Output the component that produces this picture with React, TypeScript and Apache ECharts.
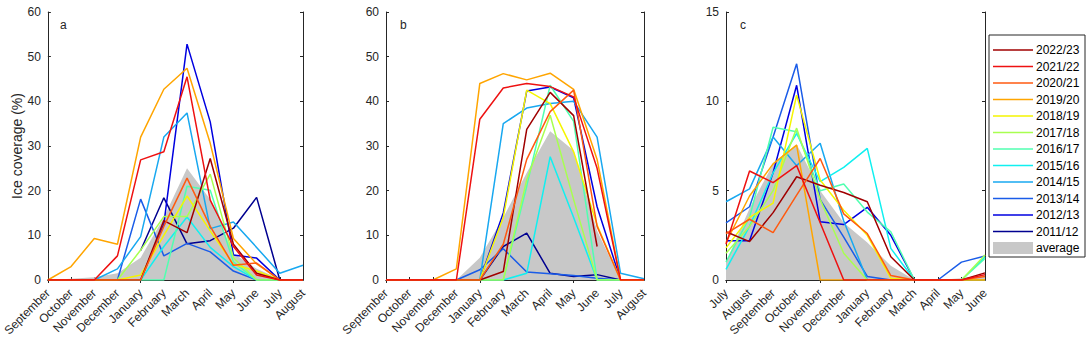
import React, { useEffect, useRef } from "react";
import * as echarts from "echarts";

const monthsAB = ["September","October","November","December","January","February","March","April","May","June","July","August"];
const monthsC = ["July","August","September","October","November","December","January","February","March","April","May","June"];
const seasons = ["2022/23","2021/22","2020/21","2019/20","2018/19","2017/18","2016/17","2015/16","2014/15","2013/14","2012/13","2011/12"];
const seasonColors = ["#a00000","#ee1111","#ff5a10","#ffa500","#f5f500","#a8ff50","#50ffb0","#10f0f0","#18a8f0","#1a5ce8","#0000e0","#000090"];
const averageName = "average";

const panelA: (number | null)[][] = [
  [0,0,0,0,0,13.3,10.6,27.2,8,1.5,0,0],
  [0,0,0,5.4,26.9,28.7,45.5,17.9,7.5,1.1,0,0],
  [0,0,0,0,0,12,22.8,12,3.3,3.8,0,0],
  [0,3,9.3,8,32,42.7,47.4,30.6,9.3,3.6,0,0],
  [0,0,0,0,1.1,10,18.8,11,3.5,2,0,0],
  [0,0,0,0,6.7,14.2,14.2,23.7,5,0,0,0],
  [0,0,0,0,0,0,21,20.1,4,0,0,0],
  [0,0,0,0,0,7.5,14.1,7.3,3,0,0,0],
  [0,0,0,2.5,9.7,32,37.4,11.5,13,7.3,1.5,3.3],
  [0,0,0,0,18.1,5.4,8.2,6.3,2,0,0,0],
  [0,0,0,0,0,12.5,52.8,35.4,5.6,4.9,0,0],
  [null,null,null,null,6.6,18.4,8.1,8.8,11.6,18.5,0,0],
];
const avgA = [0,0.3,0.6,1.5,5,14,25,18,6,2.5,0.2,0.2];

const panelB: (number | null)[][] = [
  [0,0,0,0,0,1.9,33.7,42,36.8,7.5,null,null],
  [0,0,0,0,36,43,44,43.3,41,25,0,0],
  [0,0,0,0,0,8,27,37.7,42.5,12,0,0],
  [0,0,0,2.5,44,46.2,44.8,46.3,42.7,27,0,0],
  [0,0,0,0,0,14,42.5,39.5,28.7,12.3,0,0],
  [0,0,0,0,0,0,22.4,36.9,18,0,0,0],
  [0,0,0,0,0,0,21,43.6,35.5,0,0,0],
  [0,0,0,0,0,0,1.5,27.6,14,0,0,0],
  [0,0,0,0,0,35,38.5,39.5,40,32,1.5,0.3],
  [0,0,0,0,2.3,7,1.8,1.4,1,0.4,0,0],
  [0,0,0,0,0,15,42.3,43.2,40.8,16.4,0,0],
  [0,0,0,0,0,7.5,10.5,1.5,0.8,1.2,0,0],
];
const avgB = [0,0,0,0,5,14,24,33.3,29,11,0,0];

const panelC: (number | null)[][] = [
  [2.7,2.15,3.77,5.78,5.3,4.9,4.38,1.3,0,0,0,0.4],
  [2.0,6.1,5.45,6.4,3.2,0,0,0,0,0,0,0.3],
  [2.6,3.4,2.65,4.75,6.8,3.7,2.6,0.25,0,0,0,0.2],
  [2.1,4.7,6.5,7.55,0,0,0,0,0,0,0,0],
  [1.8,3.5,4.3,10.35,5.6,3.9,2.5,0.1,0,0,0,0],
  [1.5,3,5,8.5,4.5,1.5,0,0,0,0,0,1.4],
  [1.0,3.5,8.55,8.3,5,5.37,3.8,2.7,0,0,0,1.2],
  [0.6,3,6,8.2,5.5,6.3,7.37,1.77,0,0,0,1.3],
  [4.38,5.1,8.0,6.4,7.65,3.3,0,0,0,0,0,0],
  [3.2,4.1,8.0,12.1,4.5,2.4,0.2,0,0,0,1.0,1.34],
  [2.2,2.2,6,10.9,3.26,3.1,4.07,2.5,0,0,0,0],
  [null,null,null,null,null,null,null,null,null,null,null,null],
];
const avgC = [1,4,6.5,7.6,5,3.2,2.1,0.8,0,0,0.1,0.3];

const panelLetters = ["a","b","c"];
const yMax = [60, 60, 15];
const yInterval = [10, 10, 5];

const FONT = "'Liberation Sans', Arial, sans-serif";
const AX = "#262626";

export default function App() {
  const ref = useRef<HTMLDivElement>(null);
  useEffect(() => {
    if (!ref.current) return;
    const chart = echarts.init(ref.current, null, { renderer: "svg" });
    const grids = [
      { left: 46, top: 12, width: 257, height: 268 },
      { left: 386, top: 12, width: 258, height: 268 },
      { left: 726, top: 12, width: 259, height: 268 },
    ];
    const panels = [panelA, panelB, panelC];
    const avgs = [avgA, avgB, avgC];
    const cats = [monthsAB, monthsAB, monthsC];
    const xAxis: any[] = [];
    const yAxis: any[] = [];
    const series: any[] = [];
    grids.forEach((g, i) => {
      xAxis.push({
        type: "category", gridIndex: i, data: cats[i], boundaryGap: false,
        axisLine: { lineStyle: { color: AX, width: 1 } },
        axisTick: { inside: true, length: 3, lineStyle: { color: AX } },
        axisLabel: { rotate: 45, fontSize: 12, fontFamily: FONT, color: AX, margin: 11, interval: 0 },
        splitLine: { show: false },
      });
      xAxis.push({
        type: "category", gridIndex: i, data: cats[i], boundaryGap: false, position: "top",
        axisLine: { lineStyle: { color: AX, width: 1 } },
        axisTick: { inside: true, length: 3, lineStyle: { color: AX } },
        axisLabel: { show: false }, splitLine: { show: false },
      });
      yAxis.push({
        type: "value", gridIndex: i, min: 0, max: yMax[i], interval: yInterval[i],
        name: i === 0 ? "Ice coverage (%)" : "", nameLocation: "middle", nameGap: 24,
        nameTextStyle: { fontSize: 14, fontFamily: FONT, color: AX },
        axisLine: { show: true, lineStyle: { color: AX, width: 1 } },
        axisTick: { show: true, inside: true, length: 3, lineStyle: { color: AX } },
        axisLabel: { fontSize: 12, fontFamily: FONT, color: AX, margin: 7 },
        splitLine: { show: false },
      });
      yAxis.push({
        type: "value", gridIndex: i, min: 0, max: yMax[i], interval: yInterval[i], position: "right",
        axisLine: { show: true, lineStyle: { color: AX, width: 1 } },
        axisTick: { show: true, inside: true, length: 3, lineStyle: { color: AX } },
        axisLabel: { show: false }, splitLine: { show: false },
      });
      series.push({
        type: "line", name: averageName, xAxisIndex: i * 2, yAxisIndex: i * 2,
        data: avgs[i], showSymbol: false, symbol: "none",
        lineStyle: { width: 0, color: "#c8c8c8" },
        areaStyle: { color: "#c8c8c8", opacity: 1 }, z: 1,
      });
      const order = [11,10,9,8,7,6,5,4,3,0,2,1];
      order.forEach((s) => {
        series.push({
          type: "line", name: seasons[s], xAxisIndex: i * 2, yAxisIndex: i * 2,
          data: panels[i][s], showSymbol: false, symbol: "none",
          lineStyle: { width: 1.5, color: seasonColors[s] }, z: 2,
        });
      });
    });

    const graphic: any[] = [];
    panelLetters.forEach((l, i) => {
      graphic.push({
        type: "text", left: grids[i].left + 14, top: 19,
        style: { text: l, fontSize: 12, fontFamily: FONT, fill: AX },
      });
    });
    const lx = 989, ly = 35, lw = 96, lh = 222;
    graphic.push({ type: "rect", shape: { x: lx, y: ly, width: lw, height: lh }, style: { fill: "#fff", stroke: AX, lineWidth: 1 }, z: 10 });
    seasons.forEach((s, k) => {
      const yy = 50 + k * 16.5;
      graphic.push({ type: "line", shape: { x1: 993, y1: yy, x2: 1033, y2: yy }, style: { stroke: seasonColors[k], lineWidth: 1.5 }, z: 11 });
      graphic.push({ type: "text", x: 1036, y: yy, style: { text: s, fontSize: 12, fontFamily: FONT, fill: "#000", verticalAlign: "middle", align: "left" }, z: 11 });
    });
    const ay = 50 + 12 * 16.5;
    graphic.push({ type: "rect", shape: { x: 993, y: ay - 6, width: 40, height: 12 }, style: { fill: "#c8c8c8" }, z: 11 });
    graphic.push({ type: "text", x: 1036, y: ay, style: { text: averageName, fontSize: 12, fontFamily: FONT, fill: "#000", verticalAlign: "middle", align: "left" }, z: 11 });

    chart.setOption({
      animation: false,
      backgroundColor: "#fff",
      grid: grids.map((g) => ({ ...g, containLabel: false })),
      xAxis, yAxis, series, graphic,
    });
    return () => chart.dispose();
  }, []);
  return <div ref={ref} style={{ position: "fixed", left: 0, top: 0, width: 1088, height: 344 }} />;
}
